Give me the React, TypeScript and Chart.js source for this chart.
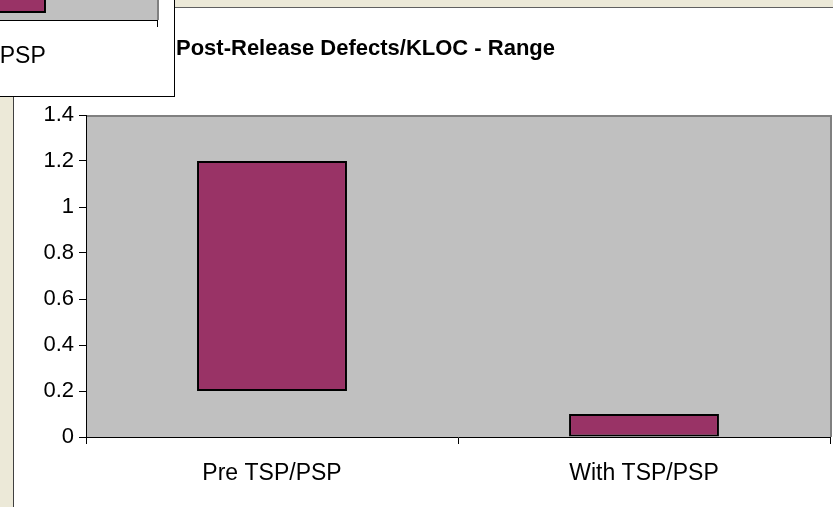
import React, { useEffect, useRef } from "react";
import { Chart, registerables } from "chart.js";

Chart.register(...registerables);

const categories = ["Pre TSP/PSP", "With TSP/PSP"];
const rangeLow = [0.2, 0];
const rangeHigh = [1.2, 0.1];
const yTicks = [0, 0.2, 0.4, 0.6, 0.8, 1, 1.2, 1.4];
const titleText = "Post-Release Defects/KLOC - Range";

// partly hidden chart behind (only its lower-right corner is visible)
const fragLow = [0.3, 0.03];
const fragHigh = [1.0, 0.6];

const FONT = "'Liberation Sans', Arial, sans-serif";

const plotBg = {
  id: "plotBg",
  beforeDraw(chart: any) {
    const { ctx, chartArea: a } = chart;
    ctx.save();
    ctx.fillStyle = "#C0C0C0";
    ctx.fillRect(a.left, a.top, a.right - a.left, a.bottom - a.top);
    ctx.strokeStyle = "#808080";
    ctx.lineWidth = 2;
    ctx.beginPath();
    ctx.moveTo(a.left, a.top + 1);
    ctx.lineTo(a.right + 1, a.top + 1);
    ctx.lineTo(a.right + 1, a.bottom);
    ctx.stroke();
    ctx.restore();
  },
};

const titlePlugin = {
  id: "xlTitle",
  afterDraw(chart: any, _args: any, opts: any) {
    if (!opts || !opts.text) return;
    const { ctx, chartArea: a } = chart;
    ctx.save();
    ctx.fillStyle = "#000";
    ctx.font = "bold 22px " + FONT;
    ctx.textAlign = "left";
    ctx.textBaseline = "middle";
    ctx.fillText(opts.text, a.left + 90, 41);
    ctx.restore();
  },
};

function makeConfig(low: number[], high: number[], title: string) {
  return {
    type: "bar" as const,
    data: {
      labels: categories,
      datasets: [
        {
          data: low.map((l, i) => [l, high[i]]),
          backgroundColor: "#993366",
          borderColor: "#000000",
          borderWidth: 2,
          borderSkipped: false,
          barPercentage: 0.403,
          categoryPercentage: 1,
        },
      ],
    },
    options: {
      animation: false,
      responsive: false,
      devicePixelRatio: 1,
      layout: { padding: { left: 0, top: 107, right: 3, bottom: 0 } },
      plugins: {
        legend: { display: false },
        tooltip: { enabled: false },
        title: { display: false },
        xlTitle: { text: title },
      },
      scales: {
        x: {
          grid: {
            offset: true,
            drawOnChartArea: false,
            drawTicks: true,
            tickLength: 7,
            tickColor: "#000",
          },
          border: { display: true, color: "#000", width: 1 },
          ticks: { color: "#000", font: { family: FONT, size: 23 }, padding: 16 },
          afterFit: (s: any) => {
            s.height = 70;
          },
        },
        y: {
          min: 0,
          max: 1.4,
          afterBuildTicks: (s: any) => {
            s.ticks = yTicks.map((v) => ({ value: v }));
          },
          grid: {
            drawOnChartArea: false,
            drawTicks: true,
            tickLength: 7,
            tickColor: "#000",
          },
          border: { display: true, color: "#000", width: 1 },
          ticks: {
            color: "#000",
            font: { family: FONT, size: 22 },
            padding: 5,
            callback: (v: any) => String(v),
          },
          afterFit: (s: any) => {
            s.width = 72;
          },
        },
      },
    },
    plugins: [plotBg, titlePlugin],
  };
}

function ChartCanvas({ low, high, title, style }: any) {
  const ref = useRef<HTMLCanvasElement>(null);
  useEffect(() => {
    if (!ref.current) return;
    const chart = new Chart(ref.current, makeConfig(low, high, title) as any);
    return () => chart.destroy();
  }, []);
  return <canvas ref={ref} width={819} height={499} style={{ position: "absolute", width: 819, height: 499, ...style }} />;
}

export default function App() {
  return (
    <div
      style={{
        position: "absolute",
        left: 0,
        top: 0,
        width: 833,
        height: 507,
        background: "#ECE9D8",
        overflow: "hidden",
      }}
    >
      <div
        style={{
          position: "absolute",
          left: 13,
          top: 7,
          width: 820,
          height: 500,
          boxSizing: "border-box",
          background: "#fff",
          borderLeft: "1px solid #404040",
          borderTop: "1px solid #606060",
        }}
      />
      <ChartCanvas low={rangeLow} high={rangeHigh} title={titleText} style={{ left: 14, top: 8 }} />
      <div
        style={{
          position: "absolute",
          left: 0,
          top: 0,
          width: 175,
          height: 97,
          boxSizing: "border-box",
          background: "#fff",
          borderRight: "1px solid #000",
          borderBottom: "1px solid #000",
          overflow: "hidden",
        }}
      >
        <ChartCanvas low={fragLow} high={fragHigh} title="" style={{ left: -659, top: -409 }} />
      </div>
    </div>
  );
}
